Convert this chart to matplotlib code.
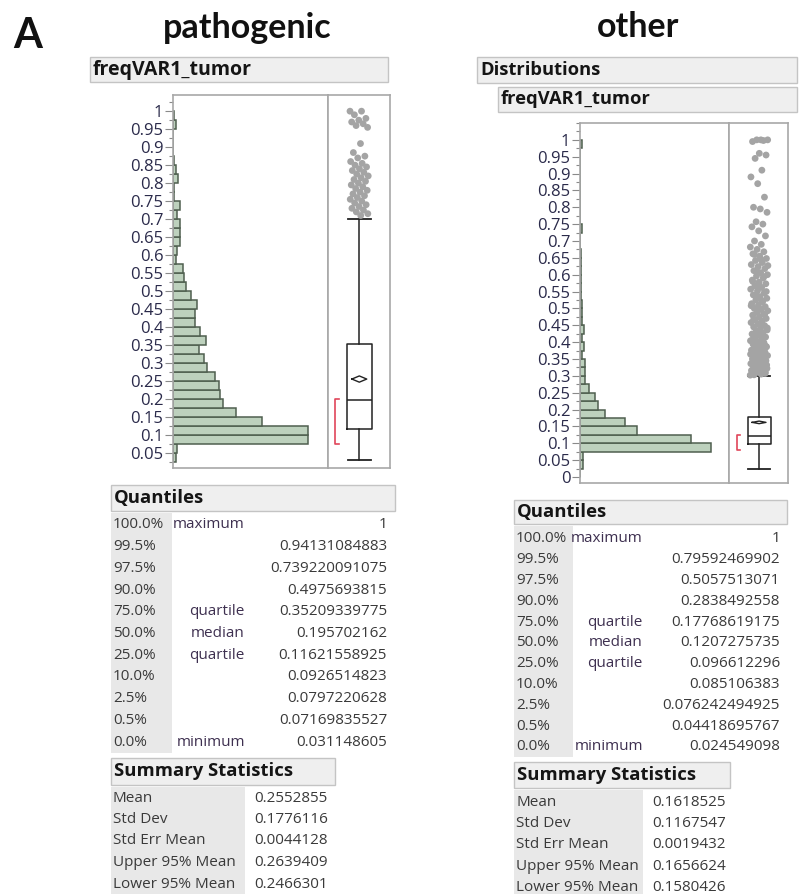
import numpy as np
import matplotlib
matplotlib.use("Agg")
import matplotlib.pyplot as plt
from matplotlib.patches import Rectangle
from matplotlib.ticker import MultipleLocator

# ---------------- data ----------------
bin_width = 0.025
path_bin_starts = [0.025, 0.05, 0.075, 0.1, 0.125, 0.15, 0.175, 0.2, 0.225, 0.25, 0.275, 0.3,
                   0.325, 0.35, 0.375, 0.4, 0.425, 0.45, 0.475, 0.5, 0.525, 0.55, 0.575, 0.6,
                   0.625, 0.65, 0.675, 0.7, 0.725, 0.75, 0.775, 0.8, 0.825, 0.85, 0.875, 0.9,
                   0.925, 0.95, 0.975]
path_counts = [4, 6, 200, 200, 132, 94, 74, 70, 68, 62, 50, 46,
               38, 49, 40, 32, 32, 36, 26, 20, 17, 15, 4, 6,
               11, 10, 10, 6, 11, 1, 1, 8, 5, 1, 0, 0,
               0, 5, 1]

other_bin_starts = [0.0, 0.025, 0.05, 0.075, 0.1, 0.125, 0.15, 0.175, 0.2, 0.225, 0.25, 0.275,
                    0.3, 0.325, 0.35, 0.375, 0.4, 0.425, 0.45, 0.475, 0.5, 0.525, 0.55, 0.575,
                    0.6, 0.625, 0.65, 0.675, 0.7, 0.725, 0.75, 0.775, 0.8, 0.825, 0.85, 0.875,
                    0.9, 0.925, 0.95, 0.975]
other_counts = [1, 17, 17, 832, 706, 365, 284, 162, 113, 96, 60, 34,
                34, 34, 11, 28, 11, 24, 11, 11, 11, 4, 4, 4,
                4, 4, 6, 3, 3, 11, 3, 3, 3, 3, 2, 2,
                2, 3, 3, 11]

quantile_levels = ["100.0%", "99.5%", "97.5%", "90.0%", "75.0%", "50.0%", "25.0%",
                   "10.0%", "2.5%", "0.5%", "0.0%"]
quantile_names = ["maximum", "", "", "", "quartile", "median", "quartile", "", "", "", "minimum"]
path_quantiles = ["1", "0.94131084883", "0.739220091075", "0.4975693815", "0.35209339775",
                  "0.195702162", "0.11621558925", "0.0926514823", "0.0797220628",
                  "0.07169835527", "0.031148605"]
other_quantiles = ["1", "0.79592469902", "0.5057513071", "0.2838492558", "0.17768619175",
                   "0.1207275735", "0.096612296", "0.085106383", "0.076242494925",
                   "0.04418695767", "0.024549098"]

summary_labels = ["Mean", "Std Dev", "Std Err Mean", "Upper 95% Mean", "Lower 95% Mean"]
path_summary = ["0.2552855", "0.1776116", "0.0044128", "0.2639409", "0.2466301"]
other_summary = ["0.1618525", "0.1167547", "0.0019432", "0.1656624", "0.1580426"]

path_upper_whisker = 0.70
other_upper_whisker = 0.30
path_shortest_half = [0.076, 0.20]
other_shortest_half = [0.081, 0.125]

path_outliers = [1.0, 1.0, 0.99, 0.98, 0.975, 0.97, 0.965, 0.96, 0.955, 0.91, 0.885, 0.875,
                 0.87, 0.86, 0.855, 0.85, 0.845, 0.84, 0.835, 0.83, 0.825, 0.82, 0.815, 0.81,
                 0.805, 0.80, 0.795, 0.79, 0.785, 0.78, 0.775, 0.77, 0.765, 0.76, 0.755, 0.75,
                 0.745, 0.74, 0.735, 0.73, 0.725, 0.72, 0.715, 0.71]
other_outliers = [0.302, 0.305, 0.308, 0.31, 0.312, 0.315, 0.318, 0.32, 0.322, 0.325, 0.328,
                  0.33, 0.333, 0.336, 0.34, 0.342, 0.345, 0.348, 0.35, 0.353, 0.357, 0.36,
                  0.362, 0.366, 0.37, 0.373, 0.376, 0.38, 0.383, 0.386, 0.39, 0.394, 0.398,
                  0.40, 0.404, 0.408, 0.412, 0.415, 0.42, 0.424, 0.428, 0.432, 0.436, 0.44,
                  0.445, 0.449, 0.453, 0.458, 0.462, 0.466, 0.47, 0.475, 0.48, 0.484, 0.488,
                  0.493, 0.497, 0.50, 0.505, 0.51, 0.514, 0.52, 0.525, 0.53, 0.535, 0.54,
                  0.546, 0.552, 0.557, 0.562, 0.567, 0.573, 0.578, 0.584, 0.59, 0.596, 0.60,
                  0.606, 0.612, 0.618, 0.624, 0.63, 0.636, 0.642, 0.648, 0.655, 0.662, 0.668,
                  0.675, 0.682, 0.69, 0.70, 0.715, 0.73, 0.742, 0.75, 0.757, 0.785, 0.795,
                  0.80, 0.83, 0.87, 0.89, 0.91, 0.945, 0.955, 0.96, 0.995, 0.998, 1.0, 1.0, 1.0,
                  0.303, 0.307, 0.311, 0.316, 0.321, 0.327, 0.332, 0.338, 0.344, 0.351, 0.356,
                  0.364, 0.371, 0.379, 0.388, 0.396, 0.406, 0.418, 0.43, 0.442, 0.456, 0.468,
                  0.482, 0.495, 0.508, 0.522, 0.538, 0.55, 0.565, 0.58, 0.594, 0.61, 0.627,
                  0.645, 0.66]

# ---------------- layout helpers ----------------
W, H = 807, 894
fig = plt.figure(figsize=(W / 100, H / 100), dpi=100)
fig.patch.set_facecolor("white")

UI = ["Open Sans", "DejaVu Sans"]
TITLE = ["Lato", "DejaVu Sans"]
TXT = "#3a3a3a"
NAMECOL = "#3e3050"
TFS = 11


def add_ax(x0, y0, x1, y1):
    return fig.add_axes([x0 / W, 1 - y1 / H, (x1 - x0) / W, (y1 - y0) / H])


def txt(x, y, s, **kw):
    kw.setdefault("family", UI)
    kw.setdefault("va", "center")
    fig.text(x / W, 1 - y / H, s, **kw)


def rect(x0, y0, x1, y1, fc, ec="none", lw=1.0):
    fig.patches.append(Rectangle((x0 / W, 1 - y1 / H), (x1 - x0) / W, (y1 - y0) / H,
                                 transform=fig.transFigure, fc=fc, ec=ec, lw=lw, zorder=0))


def header(x0, y0, x1, y1, s, size=13.3):
    rect(x0, y0, x1, y1, "#efefef", "#c4c4c4")
    txt(x0 + 3, (y0 + y1) / 2, s, fontsize=size, fontweight="bold", color="#151515")


# ---------------- titles ----------------
txt(28, 36, "A", fontsize=30, fontweight="bold", family=TITLE, ha="center", color="#111111")
txt(247, 28, "pathogenic", fontsize=24.5, fontweight="bold", family=TITLE, ha="center", color="#111111")
txt(638, 27, "other", fontsize=24.5, fontweight="bold", family=TITLE, ha="center", color="#111111")

header(90, 57, 388, 82, "freqVAR1_tumor", size=14)
header(477, 57, 797, 83, "Distributions", size=13.2)
header(498, 87, 797, 112, "freqVAR1_tumor", size=13.2)


# ---------------- histogram + box plot ----------------
def draw_panel(hx0, hx1, bx1, y0, y1, ylim, starts, counts, xmax, qtexts, upper_whisk,
               short_half, outliers, summ, box_center, box_w, bracket_x, ticks_from):
    q = [float(s) for s in qtexts]
    ax = add_ax(hx0, y0, hx1, y1)
    ax.barh(starts, counts, height=bin_width, align="edge", color="#bdd1bd",
            edgecolor="#4f5f4f", linewidth=1.1)
    ax.set_xlim(0, xmax)
    ax.set_ylim(*ylim)
    ax.set_xticks([])
    ax.yaxis.set_minor_locator(MultipleLocator(0.025))
    ticks = np.round(np.arange(ticks_from, 1.0001, 0.05), 2)
    ax.set_yticks(ticks)
    ax.set_yticklabels(["%g" % t for t in ticks], family=UI, fontsize=12, color="#2a2a4a")
    ax.tick_params(axis="y", which="major", length=6, width=0.8, color="#8a8a8a", pad=1)
    ax.tick_params(axis="y", which="minor", length=3, width=0.8, color="#8a8a8a")
    for sp in ax.spines.values():
        sp.set_color("#a8a8a8")
        sp.set_linewidth(1.2)

    bx = add_ax(hx1, y0, bx1, y1)
    stats = [dict(med=q[5], q1=q[6], q3=q[4], whislo=q[10], whishi=upper_whisk, fliers=[])]
    bx.bxp(stats, positions=[box_center], widths=box_w, showfliers=False,
           boxprops=dict(color="#222222", linewidth=1.1),
           medianprops=dict(color="#222222", linewidth=1.1),
           whiskerprops=dict(color="#222222", linewidth=1.1),
           capprops=dict(color="#222222", linewidth=1.3), capwidths=box_w * 0.95)
    bx.set_ylim(*ylim)
    bx.set_xlim(0, 1)
    bx.set_xticks([])
    bx.set_yticks([])
    for sp in bx.spines.values():
        sp.set_color("#a8a8a8")
        sp.set_linewidth(1.2)
    # outliers with deterministic spread
    n = len(outliers)
    spread = ((np.arange(n) * 0.6180339887) % 1.0 - 0.5) * 0.30
    bx.scatter(box_center + spread, outliers, s=24, color="#a4a4a4", edgecolors="none", zorder=3)
    # means diamond
    mean, upper, lower = float(summ[0]), float(summ[3]), float(summ[4])
    dw = box_w * 0.3
    bx.plot([box_center - dw, box_center, box_center + dw, box_center, box_center - dw],
            [mean, upper, mean, lower, mean], color="#222222", lw=1.0, zorder=4)
    # shortest half bracket
    lo, hi = short_half
    bx.plot([bracket_x + 0.05, bracket_x, bracket_x, bracket_x + 0.05], [lo, lo, hi, hi],
            color="#e0455a", lw=1.2)


draw_panel(173, 328, 390, 95, 468, (0.008, 1.045), path_bin_starts, path_counts, 230,
           path_quantiles, path_upper_whisker, path_shortest_half, path_outliers, path_summary,
           0.505, 0.40, 0.12, 0.05)
draw_panel(580, 729, 788, 123, 483, (-0.018, 1.05), other_bin_starts, other_counts, 947,
           other_quantiles, other_upper_whisker, other_shortest_half, other_outliers, other_summary,
           0.51, 0.39, 0.13, 0.0)


# ---------------- tables ----------------
def quant_table(x0, x1, hy0, hy1, gray_x1, name_right, val_right, row0, dy, values):
    header(x0, hy0, x1, hy1, "Quantiles")
    rect(x0, hy1 + 2, gray_x1, row0 + dy * 10 + dy / 2, "#e8e8e8")
    for i, (lv, nm, v) in enumerate(zip(quantile_levels, quantile_names, values)):
        y = row0 + i * dy
        txt(x0 + 2, y, lv, fontsize=TFS, color=TXT)
        if nm:
            txt(name_right, y, nm, fontsize=TFS, color=NAMECOL, ha="right")
        txt(val_right, y, v, fontsize=TFS, color=TXT, ha="right")


def summ_table(x0, x1, hy0, hy1, gray_x1, val_left, row0, dy, values):
    header(x0, hy0, x1, hy1, "Summary Statistics")
    rect(x0, hy1 + 2, gray_x1, row0 + dy * 4 + dy / 2, "#e8e8e8")
    for i, (lb, v) in enumerate(zip(summary_labels, values)):
        y = row0 + i * dy
        txt(x0 + 2, y, lb, fontsize=TFS, color=TXT)
        txt(val_left, y, v, fontsize=TFS, color=TXT, ha="left")


quant_table(111, 395, 485, 511, 172, 245, 387, 525, 21.7, path_quantiles)
summ_table(111, 335, 758, 785, 245, 254, 798, 21.5, path_summary)
quant_table(514, 787, 500, 524, 573, 643, 780, 539, 20.8, other_quantiles)
summ_table(514, 730, 762, 788, 643, 652, 802, 21.4, other_summary)

fig.savefig("out.png", dpi=100, facecolor="white")
